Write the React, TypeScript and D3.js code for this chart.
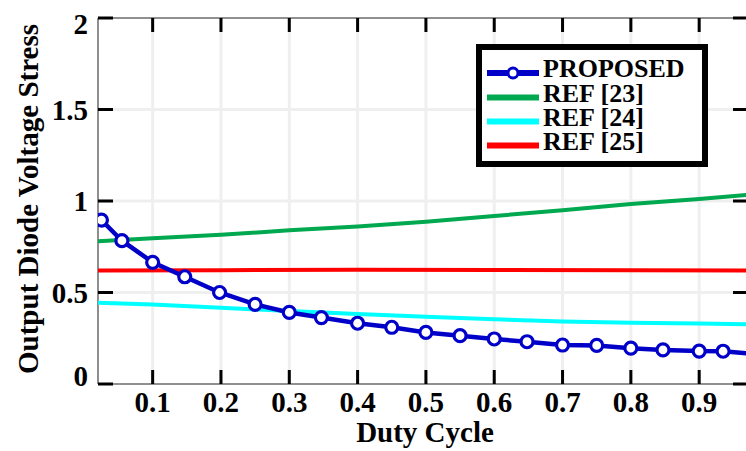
import React from "react";
import * as d3 from "d3";

const xTicks = [0.1, 0.2, 0.3, 0.4, 0.5, 0.6, 0.7, 0.8, 0.9];
const yTicks = [0, 0.5, 1, 1.5, 2];
const yTickLabels = ["0", "0.5", "1", "1.5", "2"];

const proposedD = [0.025, 0.055, 0.1, 0.147, 0.198, 0.25, 0.3, 0.347, 0.4, 0.45, 0.5, 0.55, 0.6, 0.648, 0.7, 0.75, 0.8, 0.847, 0.9, 0.935, 0.985];
const proposedV = [0.896, 0.783, 0.665, 0.586, 0.5, 0.435, 0.391, 0.363, 0.332, 0.31, 0.282, 0.264, 0.246, 0.231, 0.213, 0.211, 0.196, 0.186, 0.18, 0.179, 0.162];

const ref23D = [0.02, 0.1, 0.2, 0.3, 0.4, 0.5, 0.6, 0.7, 0.8, 0.9, 0.97];
const ref23V = [0.78, 0.797, 0.815, 0.84, 0.86, 0.886, 0.918, 0.95, 0.984, 1.011, 1.033];

const ref24D = [0.02, 0.1, 0.2, 0.3, 0.4, 0.5, 0.6, 0.7, 0.8, 0.9, 0.97];
const ref24V = [0.444, 0.435, 0.417, 0.399, 0.383, 0.368, 0.354, 0.342, 0.335, 0.331, 0.326];

const ref25D = [0.02, 0.2, 0.4, 0.6, 0.8, 0.97];
const ref25V = [0.62, 0.622, 0.624, 0.623, 0.621, 0.62];

const legendLabels = ["PROPOSED", "REF [23]", "REF [24]", "REF [25]"];
const colors = ["#0000c8", "#00a84f", "#00ffff", "#ff0000"];

export default function App() {
  const W = 746, H = 451;
  const L = 98, R = 747, T = 18, B = 384;
  const x = d3.scaleLinear().domain([0.02, 0.97]).range([L, R]);
  const y = d3.scaleLinear().domain([0, 2]).range([B, T]);
  const line = d3.line<[number, number]>().x(d => x(d[0])).y(d => y(d[1]));
  const zip = (a: number[], b: number[]) => a.map((v, i) => [v, b[i]] as [number, number]);
  const font = "'Liberation Serif', 'Times New Roman', serif";

  const series = [
    { pts: zip(ref23D, ref23V), c: colors[1] },
    { pts: zip(ref24D, ref24V), c: colors[2] },
    { pts: zip(ref25D, ref25V), c: colors[3] },
  ];
  const prop = zip(proposedD, proposedV);

  const legY = [73, 97.5, 121.5, 145.5];

  return (
    <svg width={W} height={H} style={{ position: "absolute", left: 0, top: 0, background: "#fff" }} fontFamily={font}>
      <defs>
        <clipPath id="plotclip">
          <rect x={L} y={T} width={R - L} height={B - T} />
        </clipPath>
      </defs>
      {xTicks.map(t => (
        <line key={"gx" + t} x1={x(t)} x2={x(t)} y1={T} y2={B} stroke="#efefef" strokeWidth={3} />
      ))}
      {yTicks.slice(1, 4).map(t => (
        <line key={"gy" + t} x1={L} x2={R} y1={y(t)} y2={y(t)} stroke="#efefef" strokeWidth={3} />
      ))}
      <line x1={L} x2={R} y1={T} y2={T} stroke="#222" strokeWidth={1.2} />
      <line x1={L} x2={R} y1={B} y2={B} stroke="#222" strokeWidth={1.2} />
      <line x1={L} x2={L} y1={T} y2={B} stroke="#444" strokeWidth={1.2} />
      {xTicks.map(t => (
        <g key={"tx" + t}>
          <line x1={x(t)} x2={x(t)} y1={B} y2={B - 14} stroke="#000" strokeWidth={3} />
          <line x1={x(t)} x2={x(t)} y1={T} y2={T + 14} stroke="#000" strokeWidth={3} />
        </g>
      ))}
      {yTicks.map(t => (
        <g key={"ty" + t}>
          <line x1={L} x2={L + 15} y1={y(t)} y2={y(t)} stroke="#000" strokeWidth={3} />
          <line x1={R} x2={R - 14} y1={y(t)} y2={y(t)} stroke="#000" strokeWidth={3} />
        </g>
      ))}
      <g clipPath="url(#plotclip)">
        {series.map((s, i) => (
          <path key={i} d={line(s.pts) || ""} fill="none" stroke={s.c} strokeWidth={4} />
        ))}
        <path d={line(prop) || ""} fill="none" stroke={colors[0]} strokeWidth={4.5} />
        {prop.map((p, i) => (
          <circle key={i} cx={x(p[0])} cy={y(p[1])} r={6} fill="#fff" stroke={colors[0]} strokeWidth={3.2} />
        ))}
      </g>
      {xTicks.map(t => (
        <text key={"lx" + t} x={x(t)} y={412} textAnchor="middle" fontSize={29} fontWeight="bold">
          {String(t)}
        </text>
      ))}
      {yTicks.map((t, i) => (
        <text key={"ly" + t} x={88} y={Math.min(Math.max(y(t), 24), 376)} dy="0.35em" textAnchor="end" fontSize={29} fontWeight="bold">
          {yTickLabels[i]}
        </text>
      ))}
      <text x={425} y={442} textAnchor="middle" fontSize={29} fontWeight="bold">Duty Cycle</text>
      <text transform="translate(38,199) rotate(-90)" textAnchor="middle" fontSize={29} fontWeight="bold">
        Output Diode Voltage Stress
      </text>
      <rect x={479} y={47} width={226} height={117} fill="#fff" stroke="#000" strokeWidth={6} />
      {legendLabels.map((lab, i) => (
        <g key={lab}>
          <line x1={487} x2={539} y1={legY[i]} y2={legY[i]} stroke={colors[i]} strokeWidth={6} />
          {i === 0 && <circle cx={513} cy={legY[i]} r={5} fill="#fff" stroke={colors[0]} strokeWidth={3} />}
          <text x={543} y={legY[i] + 4} fontSize={26} fontWeight="bold">{lab}</text>
        </g>
      ))}
    </svg>
  );
}
